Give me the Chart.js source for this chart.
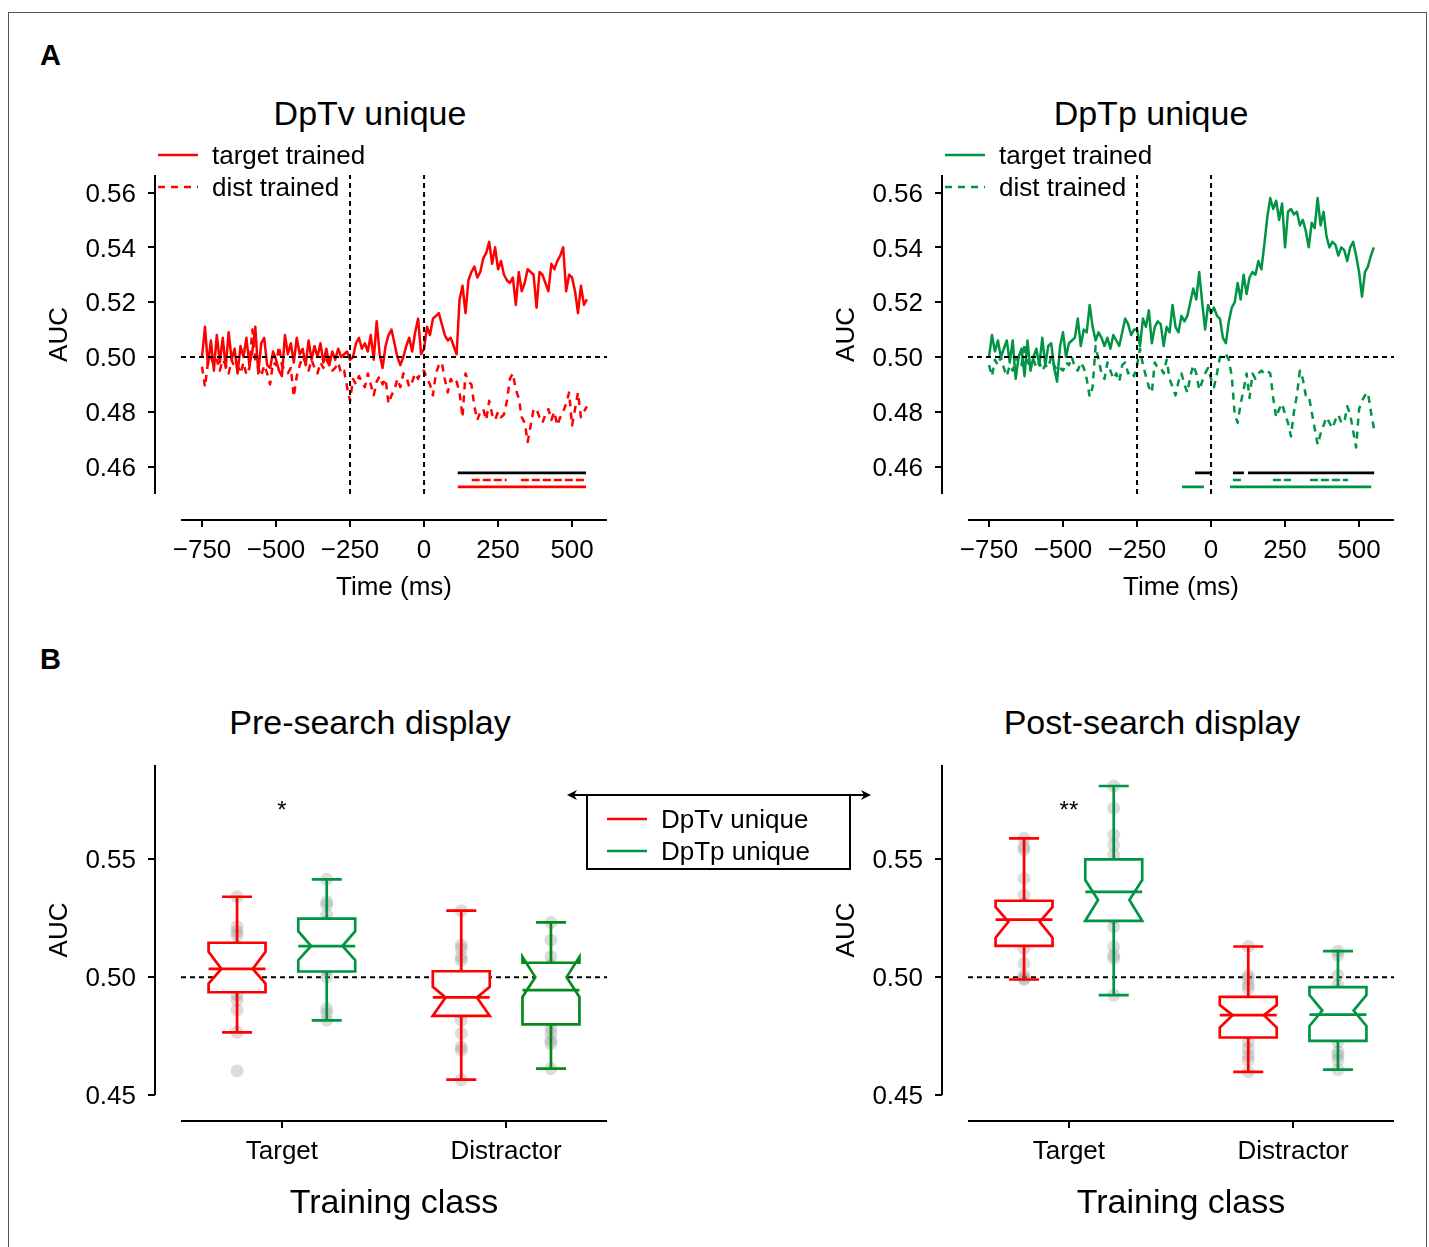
<!DOCTYPE html>
<html>
<head>
<meta charset="utf-8">
<script src="https://cdn.jsdelivr.net/npm/chart.js@4.4.1/dist/chart.umd.min.js"></script>
<style>
    html, body { margin: 0; padding: 0; background: #fff; }
    body { width: 1429px; height: 1247px; position: relative; overflow: hidden; font-family: "Liberation Sans", Arial, sans-serif; color: #000; }
    .frame { position: absolute; left: 8px; top: 12px; width: 1417px; height: 1300px; border: 1px solid #555; }
    canvas { position: absolute; }
    .letter { position: absolute; font-weight: bold; font-size: 29px; line-height: 29px; }
    .title { position: absolute; font-size: 34px; line-height: 34px; transform: translateX(-50%); white-space: nowrap; }
</style>
</head>
<body>
<div class="frame"></div>
<div class="letter" style="left:40px;top:41px">A</div>
<div class="letter" style="left:40px;top:645px">B</div>
<div class="title" style="left:370px;top:96px">DpTv unique</div>
<div class="title" style="left:1151px;top:96px">DpTp unique</div>
<div class="title" style="left:370px;top:705px">Pre-search display</div>
<div class="title" style="left:1152px;top:705px">Post-search display</div>
<canvas id="timeTv" width="600" height="540" style="left:20px;top:80px"></canvas>
<canvas id="timeTp" width="600" height="540" style="left:807px;top:80px"></canvas>
<canvas id="boxPre" width="880" height="567" style="left:20px;top:680px"></canvas>
<canvas id="boxPost" width="600" height="567" style="left:807px;top:680px"></canvas>

<script>
// sampling grid of the decoding time courses (ms)
const times = Array.from({ length: 131 }, (_, i) => -750 + 10 * i);

// DpTv unique
const tvTarget = [
    0.500, 0.511, 0.497, 0.506, 0.495, 0.508, 0.498, 0.507, 0.496, 0.509,
    0.499, 0.503, 0.494, 0.504, 0.500, 0.507, 0.497, 0.502, 0.511, 0.494,
    0.505, 0.507, 0.497, 0.496, 0.502, 0.499, 0.495, 0.493, 0.508, 0.501,
    0.505, 0.498, 0.507, 0.501, 0.503, 0.497, 0.506, 0.499, 0.504, 0.500,
    0.505, 0.498, 0.503, 0.497, 0.502, 0.499, 0.503, 0.500, 0.501, 0.502,
    0.499, 0.500, 0.505, 0.507, 0.503, 0.505, 0.502, 0.508, 0.499, 0.513,
    0.501, 0.496, 0.504, 0.508, 0.510, 0.505, 0.500, 0.497, 0.500, 0.504,
    0.507, 0.502, 0.509, 0.514, 0.501, 0.503, 0.511, 0.508, 0.514, 0.515,
    0.516, 0.512, 0.508, 0.506, 0.507, 0.504, 0.501, 0.521, 0.526, 0.516,
    0.528, 0.531, 0.533, 0.529, 0.531, 0.536, 0.538, 0.542, 0.534, 0.540,
    0.532, 0.535, 0.530, 0.528, 0.527, 0.529, 0.519, 0.531, 0.524, 0.527,
    0.532, 0.531, 0.530, 0.518, 0.531, 0.530, 0.527, 0.524, 0.534, 0.532,
    0.535, 0.537, 0.540, 0.524, 0.530, 0.529, 0.524, 0.516, 0.526, 0.519,
    0.521
];
const tvDist = [
    0.4965, 0.489, 0.498, 0.500, 0.497, 0.499, 0.495, 0.499, 0.497, 0.494,
    0.499, 0.496, 0.497, 0.494, 0.498, 0.4935, 0.496, 0.510, 0.499, 0.496,
    0.493, 0.497, 0.494, 0.490, 0.498, 0.497, 0.504, 0.497, 0.495, 0.494,
    0.496, 0.4855, 0.493, 0.497, 0.500, 0.498, 0.495, 0.499, 0.496, 0.494,
    0.498, 0.496, 0.499, 0.497, 0.495, 0.496, 0.498, 0.494, 0.495, 0.489,
    0.484, 0.492, 0.490, 0.493, 0.491, 0.489, 0.494, 0.490, 0.486, 0.491,
    0.493, 0.490, 0.492, 0.483, 0.486, 0.488, 0.492, 0.489, 0.494, 0.493,
    0.489, 0.491, 0.494, 0.492, 0.495, 0.495, 0.492, 0.490, 0.486, 0.494,
    0.497, 0.498, 0.492, 0.487, 0.492, 0.490, 0.491, 0.487, 0.478, 0.494,
    0.491, 0.490, 0.482, 0.477, 0.480, 0.481, 0.477, 0.484, 0.479, 0.477,
    0.480, 0.478, 0.479, 0.484, 0.492, 0.494, 0.488, 0.485, 0.478, 0.476,
    0.469, 0.475, 0.481, 0.481, 0.478, 0.476, 0.479, 0.481, 0.477, 0.480,
    0.475, 0.478, 0.480, 0.483, 0.487, 0.475, 0.481, 0.487, 0.478, 0.480,
    0.482
];

// DpTp unique
const tpTarget = [
    0.500, 0.508, 0.502, 0.506, 0.500, 0.503, 0.506, 0.498, 0.506, 0.492,
    0.500, 0.503, 0.493, 0.506, 0.495, 0.500, 0.503, 0.497, 0.507, 0.497,
    0.504, 0.505, 0.496, 0.491, 0.504, 0.509, 0.500, 0.505, 0.506, 0.507,
    0.514, 0.504, 0.510, 0.509, 0.519, 0.511, 0.506, 0.509, 0.507, 0.504,
    0.507, 0.503, 0.508, 0.506, 0.504, 0.509, 0.514, 0.512, 0.508, 0.510,
    0.510, 0.504, 0.514, 0.511, 0.517, 0.505, 0.511, 0.513, 0.512, 0.504,
    0.511, 0.509, 0.519, 0.511, 0.509, 0.515, 0.513, 0.515, 0.520, 0.525,
    0.521, 0.531, 0.520, 0.510, 0.519, 0.516, 0.518, 0.515, 0.514, 0.507,
    0.505, 0.513, 0.518, 0.520, 0.527, 0.521, 0.530, 0.523, 0.529, 0.531,
    0.530, 0.535, 0.532, 0.541, 0.551, 0.558, 0.554, 0.557, 0.550, 0.556,
    0.540, 0.553, 0.554, 0.552, 0.553, 0.548, 0.550, 0.546, 0.540, 0.549,
    0.547, 0.558, 0.548, 0.553, 0.544, 0.540, 0.542, 0.541, 0.537, 0.540,
    0.539, 0.535, 0.540, 0.542, 0.537, 0.531, 0.522, 0.531, 0.533, 0.537,
    0.540
];
const tpDist = [
    0.497, 0.493, 0.499, 0.497, 0.500, 0.496, 0.493, 0.497, 0.495, 0.499,
    0.500, 0.497, 0.505, 0.498, 0.497, 0.499, 0.496, 0.498, 0.495, 0.497,
    0.496, 0.500, 0.497, 0.495, 0.496, 0.495, 0.498, 0.497, 0.500, 0.496,
    0.495, 0.498, 0.496, 0.492, 0.4855, 0.489, 0.504, 0.499, 0.494, 0.492,
    0.498, 0.495, 0.492, 0.494, 0.491, 0.497, 0.498, 0.494, 0.495, 0.493,
    0.497, 0.503, 0.497, 0.493, 0.489, 0.487, 0.498, 0.496, 0.496, 0.494,
    0.499, 0.492, 0.489, 0.486, 0.491, 0.494, 0.490, 0.487, 0.493, 0.497,
    0.494, 0.488, 0.491, 0.494, 0.496, 0.492, 0.489, 0.494, 0.500, 0.500,
    0.501, 0.499, 0.493, 0.479, 0.476, 0.483, 0.488, 0.494, 0.485, 0.494,
    0.492, 0.494, 0.495, 0.494, 0.495, 0.494, 0.485, 0.478, 0.481, 0.483,
    0.479, 0.476, 0.471, 0.480, 0.486, 0.495, 0.492, 0.486, 0.486, 0.480,
    0.474, 0.468, 0.472, 0.475, 0.478, 0.476, 0.474, 0.477, 0.479, 0.476,
    0.476, 0.482, 0.479, 0.473, 0.467, 0.481, 0.484, 0.486, 0.487, 0.480,
    0.474
];

const timeTicks = [-750, -500, -250, 0, 250, 500];
const aucTicksTime = [0.46, 0.48, 0.50, 0.52, 0.54, 0.56];
const eventTimes = [-250, 0];

// significant clusters, [start, end] in ms
const tvSigBoth = [[114, 547]];
const tvSigDist = [[161, 279], [327, 547]];
const tvSigTarget = [[114, 547]];
const tpSigBoth = [[-54, 0], [74, 111], [125, 551]];
const tpSigDist = [[74, 101], [209, 270], [334, 463]];
const tpSigTarget = [[-98, -24], [64, 541]];

// panel B
const classes = ["Target", "Distractor"];
const boxSeries = ["DpTv unique", "DpTp unique"];
const aucTicksBox = [0.45, 0.50, 0.55];
const stars = ["*", "**"];

// per class: [lower whisker, q1, median, q3, upper whisker]
const preTvBox = [[0.4766, 0.4936, 0.5035, 0.5146, 0.5341], [0.4565, 0.4836, 0.4914, 0.5025, 0.5282]];
const preTpBox = [[0.4817, 0.5024, 0.5132, 0.5248, 0.5415], [0.4612, 0.4800, 0.4945, 0.5061, 0.5232]];
const postTvBox = [[0.4990, 0.5133, 0.5244, 0.5324, 0.5589], [0.4598, 0.4744, 0.4839, 0.4916, 0.5130]];
const postTpBox = [[0.4924, 0.5239, 0.5362, 0.5500, 0.5811], [0.4608, 0.4730, 0.4841, 0.4958, 0.5110]];

// notch per class: [low, waist, high]
const preTvNotch = [[0.4973, 0.5035, 0.5108], [0.4836, 0.4914, 0.4959]];
const preTpNotch = [[0.5072, 0.5132, 0.5195], [0.4916, 0.5000, 0.5086]];
const postTvNotch = [[0.5167, 0.5235, 0.5298], [0.4786, 0.4839, 0.4881]];
const postTpNotch = [[0.5239, 0.5327, 0.5412], [0.4793, 0.4858, 0.4924]];

// single subject AUCs per class
const preTvDots = [
    [0.5341, 0.5214, 0.5193, 0.5178, 0.5130, 0.5095, 0.5060, 0.5035, 0.5000, 0.4960, 0.4924, 0.4902, 0.4860, 0.4766, 0.4602],
    [0.5282, 0.5136, 0.5122, 0.5086, 0.5072, 0.5010, 0.4960, 0.4914, 0.4880, 0.4850, 0.4817, 0.4761, 0.4704, 0.4690, 0.4565]
];
const preTpDots = [
    [0.5415, 0.5320, 0.5306, 0.5263, 0.5235, 0.5190, 0.5160, 0.5132, 0.5090, 0.5040, 0.5030, 0.5001, 0.4867, 0.4846, 0.4817],
    [0.5232, 0.5157, 0.5086, 0.5050, 0.5020, 0.4980, 0.4945, 0.4900, 0.4850, 0.4810, 0.4785, 0.4761, 0.4732, 0.4718, 0.4612]
];
const postTvDots = [
    [0.5589, 0.5554, 0.5540, 0.5419, 0.5348, 0.5310, 0.5270, 0.5244, 0.5210, 0.5160, 0.5122, 0.5058, 0.5008, 0.4995, 0.4990],
    [0.5130, 0.5008, 0.4994, 0.4966, 0.4952, 0.4900, 0.4860, 0.4839, 0.4800, 0.4760, 0.4725, 0.4697, 0.4669, 0.4648, 0.4598]
];
const postTpDots = [
    [0.5811, 0.5717, 0.5603, 0.5561, 0.5518, 0.5460, 0.5400, 0.5362, 0.5300, 0.5250, 0.5214, 0.5129, 0.5093, 0.5080, 0.4924],
    [0.5110, 0.5093, 0.5008, 0.4966, 0.4940, 0.4900, 0.4860, 0.4841, 0.4800, 0.4750, 0.4725, 0.4683, 0.4669, 0.4648, 0.4608]
];

const RED = "#ff0000";
const GREEN = "#009444";
const GREEN_DARK = "#078a1c";
const FONT = '"Liberation Sans", Arial, sans-serif';
const TIME_MIN = -821, TIME_MAX = 618;
const AUC_T_MIN = 0.45, AUC_T_MAX = 0.5664;
const CLASS_MIN = -0.45, CLASS_MAX = 1.45;
const AUC_B_MIN = 0.45, AUC_B_MAX = 0.59;

Chart.defaults.font.family = FONT;
Chart.defaults.font.size = 26;
Chart.defaults.color = "#000";

function fitBox(w, h) {
    return scale => {
        if (w) scale.width = w;
        if (h) scale.height = h;
        scale.paddingLeft = scale.paddingRight = scale.paddingTop = scale.paddingBottom = 0;
    };
}

const minus = v => (v < 0 ? "\u2212" + (-v) : String(v));

/* Offset spines with outward ticks */
const spines = {
    id: "spines",
    afterDraw(chart) {
        const { ctx, chartArea: a, scales: { x, y } } = chart;
        const off = 26, tick = 7;
        ctx.save();
        ctx.strokeStyle = "#000";
        ctx.lineWidth = 2;
        ctx.beginPath();
        ctx.moveTo(a.left - off, a.top);
        ctx.lineTo(a.left - off, a.bottom);
        y.ticks.forEach(t => {
            const py = Math.round(y.getPixelForValue(t.value));
            ctx.moveTo(a.left - off - tick, py);
            ctx.lineTo(a.left - off, py);
        });
        ctx.moveTo(a.left, a.bottom + off);
        ctx.lineTo(a.right, a.bottom + off);
        x.ticks.forEach(t => {
            const px = Math.round(x.getPixelForValue(t.value));
            ctx.moveTo(px, a.bottom + off);
            ctx.lineTo(px, a.bottom + off + tick);
        });
        ctx.stroke();
        ctx.restore();
    }
};

/* Legend of the time course panels */
const lineLegend = {
    id: "lineLegend",
    afterDraw(chart) {
        const { ctx, chartArea: a } = chart;
        ctx.save();
        ctx.font = "26px " + FONT;
        ctx.textBaseline = "middle";
        chart.data.datasets.slice(0, 2).forEach((ds, i) => {
            const yy = a.top - 20 + i * 32;
            ctx.strokeStyle = ds.borderColor;
            ctx.lineWidth = 2.4;
            ctx.setLineDash(ds.borderDash || []);
            ctx.beginPath();
            ctx.moveTo(a.left - 23, yy);
            ctx.lineTo(a.left + 17, yy);
            ctx.stroke();
            ctx.fillStyle = "#000";
            ctx.fillText(ds.label, a.left + 31, yy + 2);
        });
        ctx.restore();
    }
};

function timeChart(id, color, target, dist, sigBoth, sigDist, sigTarget) {
    const pts = vals => times.map((t, i) => ({ x: t, y: vals[i] }));
    const bar = (ranges, level) => ranges.flatMap(([s, e]) => [{ x: s, y: level }, { x: e, y: level }, { x: e, y: null }]);
    const dashed = { borderColor: "#000", borderWidth: 2, borderDash: [5, 4], order: 0 };

    new Chart(document.getElementById(id), {
        type: "line",
        data: {
            datasets: [
                { label: "target trained", data: pts(target), borderColor: color, borderWidth: 2.5, order: 2 },
                { label: "dist trained", data: pts(dist), borderColor: color, borderWidth: 2.5, borderDash: [7, 6], order: 3 },
                { data: bar(sigBoth, 0.4577), borderColor: "#000", borderWidth: 2.6, order: 1 },
                { data: bar(sigDist, 0.4551), borderColor: color, borderWidth: 2.6, borderDash: [8, 3], order: 1 },
                { data: bar(sigTarget, 0.4526), borderColor: color, borderWidth: 2.6, order: 1 },
                { data: [{ x: TIME_MIN, y: 0.5 }, { x: TIME_MAX, y: 0.5 }], ...dashed },
                ...eventTimes.map(t => ({ data: [{ x: t, y: AUC_T_MIN }, { x: t, y: AUC_T_MAX }], ...dashed }))
            ]
        },
        options: {
            responsive: false,
            animation: false,
            devicePixelRatio: 1,
            events: [],
            layout: { padding: { left: 10, top: 95, right: 13, bottom: 6 } },
            elements: {
                point: { radius: 0 },
                line: { tension: 0, borderJoinStyle: "round", fill: false }
            },
            plugins: { legend: { display: false }, tooltip: { enabled: false } },
            scales: {
                x: {
                    type: "linear",
                    min: TIME_MIN,
                    max: TIME_MAX,
                    border: { display: false },
                    grid: { display: false, drawTicks: false },
                    afterBuildTicks: s => { s.ticks = timeTicks.map(v => ({ value: v })); },
                    afterFit: fitBox(0, 120),
                    ticks: { padding: 41, maxRotation: 0, autoSkip: false, callback: v => minus(v) },
                    title: { display: true, text: "Time (ms)", padding: { top: 0, bottom: 11 } }
                },
                y: {
                    type: "linear",
                    min: AUC_T_MIN,
                    max: AUC_T_MAX,
                    border: { display: false },
                    grid: { display: false, drawTicks: false },
                    afterBuildTicks: s => { s.ticks = aucTicksTime.map(v => ({ value: v })); },
                    afterFit: fitBox(151, 0),
                    ticks: { padding: 45, labelOffset: 2, callback: v => v.toFixed(2) },
                    title: { display: true, text: "AUC", padding: { top: 14, bottom: 0 } }
                }
            }
        },
        plugins: [spines, lineLegend]
    });
}

/* Notched boxes, white filled over the subject dots */
function notchedBoxes(groups, star) {
    return {
        id: "notchedBoxes",
        afterDatasetsDraw(chart) {
            const { ctx, scales: { x, y } } = chart;
            const halfW = 0.127, capW = 0.067, waist = 0.55;
            const py = v => y.getPixelForValue(v);
            ctx.save();
            ctx.lineWidth = 2.7;
            ctx.lineJoin = "miter";
            groups.forEach(g => g.box.forEach((st, i) => {
                const [lo, q1, med, q3, hi] = st;
                const [nLo, nMid, nHi] = g.notch[i];
                const c = i + g.shift;
                const xc = x.getPixelForValue(c);
                const xl = x.getPixelForValue(c - halfW), xr = x.getPixelForValue(c + halfW);
                const nl = x.getPixelForValue(c - halfW * waist), nr = x.getPixelForValue(c + halfW * waist);
                const cl = x.getPixelForValue(c - capW), cr = x.getPixelForValue(c + capW);
                ctx.strokeStyle = g.colors[i];

                ctx.beginPath();
                ctx.moveTo(xc, py(q3)); ctx.lineTo(xc, py(hi));
                ctx.moveTo(cl, py(hi)); ctx.lineTo(cr, py(hi));
                ctx.moveTo(xc, py(q1)); ctx.lineTo(xc, py(lo));
                ctx.moveTo(cl, py(lo)); ctx.lineTo(cr, py(lo));
                ctx.stroke();

                ctx.beginPath();
                ctx.moveTo(xl, py(q1));
                ctx.lineTo(xl, py(nLo));
                ctx.lineTo(nl, py(nMid));
                ctx.lineTo(xl, py(nHi));
                ctx.lineTo(xl, py(q3));
                ctx.lineTo(xr, py(q3));
                ctx.lineTo(xr, py(nHi));
                ctx.lineTo(nr, py(nMid));
                ctx.lineTo(xr, py(nLo));
                ctx.lineTo(xr, py(q1));
                ctx.closePath();
                ctx.fillStyle = "#fff";
                ctx.fill();
                ctx.stroke();

                ctx.beginPath();
                ctx.moveTo(xl, py(med));
                ctx.lineTo(xr, py(med));
                ctx.stroke();
            }));
            ctx.fillStyle = "#000";
            ctx.font = "24px " + FONT;
            ctx.textAlign = "center";
            ctx.textBaseline = "middle";
            ctx.fillText(star, x.getPixelForValue(0), py(0.5705));
            ctx.restore();
        }
    };
}

/* Shared legend of panel B, with the double arrow on top */
const boxLegend = {
    id: "boxLegend",
    afterDraw(chart) {
        const { ctx, chartArea: a } = chart;
        const top = a.top + 30;
        ctx.save();
        ctx.strokeStyle = "#000";
        ctx.fillStyle = "#000";
        ctx.lineWidth = 2;
        ctx.strokeRect(a.right - 20, top, 263, 74);
        ctx.beginPath();
        ctx.moveTo(a.right - 38, top);
        ctx.lineTo(a.right + 262, top);
        ctx.stroke();
        [[a.right - 40, 1], [a.right + 264, -1]].forEach(([tip, dir]) => {
            ctx.beginPath();
            ctx.moveTo(tip, top);
            ctx.lineTo(tip + dir * 10, top - 5);
            ctx.lineTo(tip + dir * 7, top);
            ctx.lineTo(tip + dir * 10, top + 5);
            ctx.closePath();
            ctx.fill();
        });
        ctx.font = "26px " + FONT;
        ctx.textBaseline = "middle";
        [RED, GREEN].forEach((col, i) => {
            const yy = top + 24 + i * 32;
            ctx.strokeStyle = col;
            ctx.lineWidth = 2.4;
            ctx.beginPath();
            ctx.moveTo(a.right, yy);
            ctx.lineTo(a.right + 40, yy);
            ctx.stroke();
            ctx.fillText(boxSeries[i], a.right + 54, yy + 2);
        });
        ctx.restore();
    }
};

function boxChart(id, tvBox, tvNotch, tvDots, tpBox, tpNotch, tpDots, tpColors, star, padRight, withLegend) {
    const groups = [
        { box: tvBox, notch: tvNotch, colors: [RED, RED], shift: -0.2, dots: tvDots },
        { box: tpBox, notch: tpNotch, colors: tpColors, shift: 0.2, dots: tpDots }
    ];
    const dotData = groups.flatMap(g => g.dots.flatMap((vals, i) => vals.map(v => ({ x: i + g.shift, y: v }))));
    const plugins = [spines, notchedBoxes(groups, star)];
    if (withLegend) plugins.push(boxLegend);

    new Chart(document.getElementById(id), {
        type: "scatter",
        data: {
            datasets: [
                { data: dotData, pointRadius: 6.5, pointBackgroundColor: "rgba(145,145,145,0.32)", pointBorderWidth: 0, order: 1 },
                {
                    data: [{ x: CLASS_MIN, y: 0.5 }, { x: CLASS_MAX, y: 0.5 }],
                    showLine: true, pointRadius: 0, borderColor: "#000", borderWidth: 2, borderDash: [5, 4], order: 2
                }
            ]
        },
        options: {
            responsive: false,
            animation: false,
            devicePixelRatio: 1,
            events: [],
            layout: { padding: { left: 10, top: 85, right: padRight, bottom: 12 } },
            plugins: { legend: { display: false }, tooltip: { enabled: false } },
            scales: {
                x: {
                    type: "linear",
                    min: CLASS_MIN,
                    max: CLASS_MAX,
                    border: { display: false },
                    grid: { display: false, drawTicks: false },
                    afterBuildTicks: s => { s.ticks = classes.map((c, i) => ({ value: i })); },
                    afterFit: fitBox(0, 140),
                    ticks: { padding: 41, maxRotation: 0, autoSkip: false, callback: v => classes[Math.round(v)] },
                    title: { display: true, text: "Training class", font: { size: 34 }, padding: { top: 0, bottom: 11 } }
                },
                y: {
                    type: "linear",
                    min: AUC_B_MIN,
                    max: AUC_B_MAX,
                    border: { display: false },
                    grid: { display: false, drawTicks: false },
                    afterBuildTicks: s => { s.ticks = aucTicksBox.map(v => ({ value: v })); },
                    afterFit: fitBox(151, 0),
                    ticks: { padding: 45, labelOffset: 2, callback: v => v.toFixed(2) },
                    title: { display: true, text: "AUC", padding: { top: 14, bottom: 0 } }
                }
            }
        },
        plugins: plugins
    });
}

document.addEventListener("DOMContentLoaded", () => {
    timeChart("timeTv", RED, tvTarget, tvDist, tvSigBoth, tvSigDist, tvSigTarget);
    timeChart("timeTp", GREEN, tpTarget, tpDist, tpSigBoth, tpSigDist, tpSigTarget);
    boxChart("boxPre", preTvBox, preTvNotch, preTvDots, preTpBox, preTpNotch, preTpDots, [GREEN, GREEN_DARK], stars[0], 293, true);
    boxChart("boxPost", postTvBox, postTvNotch, postTvDots, postTpBox, postTpNotch, postTpDots, [GREEN, GREEN], stars[1], 13, false);
});
</script>
</body>
</html>
